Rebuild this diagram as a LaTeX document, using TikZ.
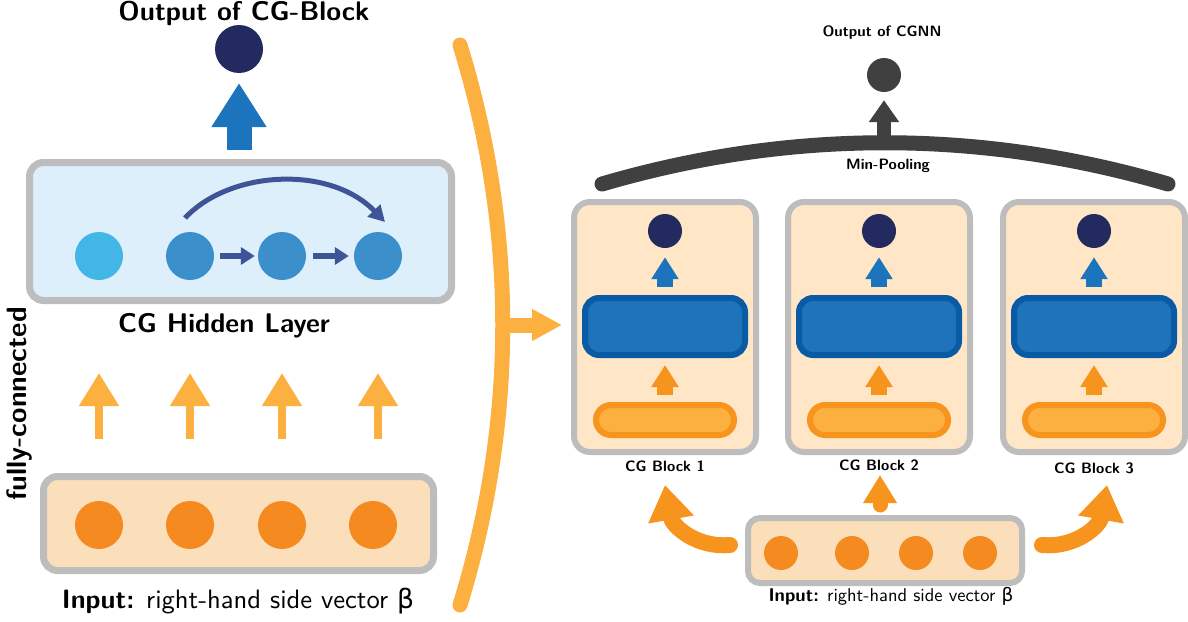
\documentclass[tikz,border=0pt]{standalone}
\usepackage{fontspec}
\setsansfont{lmsans10-regular}[Extension=.otf, BoldFont=lmsans10-bold]
\newfontfamily\grk{DejaVu Sans}
\usetikzlibrary{arrows.meta}
\definecolor{navy}{HTML}{232A5F}
\definecolor{bblue}{HTML}{1C75BC}
\definecolor{lbluefill}{HTML}{DCEFFA}
\definecolor{cgrey}{HTML}{BDBDBD}
\definecolor{lcyan}{HTML}{42B6E6}
\definecolor{mblue}{HTML}{3B8FCB}
\definecolor{slate}{HTML}{3F5496}
\definecolor{lorange}{HTML}{FBB040}
\definecolor{dorange}{HTML}{F58A20}
\definecolor{morange}{HTML}{F7941D}
\definecolor{infill}{HTML}{FBDFBB}
\definecolor{blkfill}{HTML}{FEE6C6}
\definecolor{dblue}{HTML}{0A5BA6}
\definecolor{fblue}{HTML}{1F73BA}
\definecolor{dgrey}{HTML}{404041}
\tikzset{
  greybox/.style={draw=cgrey, line width=7pt, rounded corners=14pt},
  dot/.style={circle, inner sep=0pt, minimum size=#1},
  lab/.style={font=\sffamily\bfseries, inner sep=0pt, anchor=base},
}
\begin{document}
\begin{tikzpicture}[x=1pt,y=-1pt]
\useasboundingbox (0,0) rectangle (1188,621);

% ---------- left panel ----------
\node[lab, font=\fontsize{27}{32}\selectfont\sffamily\bfseries] (t_out) at (244,20) {Output of CG-Block};
\node[dot=48pt, fill=navy] (outc) at (239,49) {};
\coordinate (ba0) at (239,150);
\coordinate (ba1) at (239,83);
\draw[bblue, line width=25pt, -{Triangle[length=44pt,width=52pt]}] (ba0) -- (ba1);

\draw[greybox, fill=lbluefill] (29.5,162.5) rectangle (451.5,300.5);
\node[dot=48pt, fill=lcyan] (h1) at (99,256) {};
\node[dot=48pt, fill=mblue] (h2) at (190,256) {};
\node[dot=48pt, fill=mblue] (h3) at (282,256) {};
\node[dot=48pt, fill=mblue] (h4) at (378,256) {};
\draw[slate, line width=6pt, -{Triangle[length=14pt,width=17pt]}] ([xshift=6pt]h2.east) -- ([xshift=-3pt]h3.west);
\draw[slate, line width=6pt, -{Triangle[length=14pt,width=17pt]}] ([xshift=7pt]h3.east) -- ([xshift=-5pt]h4.west);
\coordinate (ca0) at (185,218);
\coordinate (ca1) at (385,222);
\draw[slate, line width=5pt, -{Triangle[length=16pt,width=17pt]}] (ca0) .. controls (230,170) and (330,165) .. (ca1);

\node[lab, font=\fontsize{27}{32}\selectfont\sffamily\bfseries] (t_hid) at (224,332) {CG Hidden Layer};
\node[lab, font=\fontsize{28}{33}\selectfont\sffamily\bfseries, rotate=90, anchor=base] (t_fc) at (27,404) {fully-connected};

\foreach \x/\n in {99/1,190/2,282/3,378/4}{
  \coordinate (oa\n) at (\x,439);
  \coordinate (ob\n) at (\x,373);
  \draw[lorange, line width=8pt, -{Triangle[length=33pt,width=38pt]}] (oa\n) -- (ob\n);
}

\draw[greybox, fill=infill] (43.5,476.5) rectangle (433.5,570.5);
\foreach \x/\n in {99/1,190/2,282/3,373/4}{
  \node[dot=48pt, fill=dorange] (i\n) at (\x,525) {};
}
\node[lab, font=\fontsize{26.6}{31}\selectfont\sffamily] (t_in) at (238,608) {\textbf{Input:} right-hand side vector {\grk β}};

% ---------- bracket ----------
\coordinate (br0) at (460,45);
\coordinate (br1) at (460,605);
\draw[lorange, line width=15pt, line cap=round] (br0) .. controls (517,230) and (517,420) .. (br1);
\coordinate (bra0) at (500,325);
\coordinate (bra1) at (562,325);
\draw[lorange, line width=15pt, -{Triangle[length=30pt,width=30pt]}] (bra0) -- (bra1);

% ---------- right panel ----------
\node[lab, font=\fontsize{15}{18}\selectfont\sffamily\bfseries, anchor=center] (t_cgnn) at (882,33) {Output of CGNN};
\node[dot=34pt, fill=dgrey] (cgnn) at (884,75) {};
\coordinate (mp0) at (602,184);
\coordinate (mp1) at (1168,184);
\draw[dgrey, line width=15pt, line cap=round] (mp0) .. controls (790,129) and (980,129) .. (mp1);
\coordinate (ga0) at (884,140);
\draw[dgrey, line width=14pt, -{Triangle[length=22pt,width=29pt]}] (ga0) -- ([yshift=-8pt]cgnn.south);
\node[lab, font=\fontsize{15}{18}\selectfont\sffamily\bfseries, anchor=center] (t_mp) at (888,166) {Min-Pooling};

\foreach \cx/\n/\ly in {665/1/466,879/2/465,1094/3/468}{
  \draw[greybox, line width=6pt, rounded corners=16pt, fill=blkfill] (\cx-91,202) rectangle (\cx+91,452);
  \node[dot=34pt, fill=navy] (bo\n) at (\cx,231) {};
  \coordinate (bb\n) at (\cx,287);
  \draw[bblue, line width=16pt, -{Triangle[length=22pt,width=26pt]}] (bb\n) -- ([yshift=-9pt]bo\n.south);
  \draw[draw=dblue, line width=6pt, rounded corners=14pt, fill=fblue] (\cx-80,298) rectangle (\cx+80,355);
  \coordinate (bc\n) at (\cx,395);
  \coordinate (bd\n) at (\cx,365);
  \draw[morange, line width=16pt, -{Triangle[length=22pt,width=26pt]}] (bc\n) -- (bd\n);
  \draw[draw=morange, line width=6pt, rounded corners=15pt, fill=lorange] (\cx-69,405) rectangle (\cx+69,435);
  \node[lab, font=\fontsize{15}{18}\selectfont\sffamily\bfseries, anchor=center] (t_b\n) at (\cx,\ly) {CG Block \n};
}

\draw[greybox, line width=6pt, rounded corners=12pt, fill=infill] (748,518) rectangle (1022,583);
\foreach \x/\n in {781/1,852/2,916/3,980/4}{
  \node[dot=34pt, fill=dorange] (r\n) at (\x,553) {};
}
\node[lab, font=\fontsize{18.5}{22}\selectfont\sffamily] (t_rin) at (891,601) {\textbf{Input:} right-hand side vector {\grk β}};

\coordinate (la0) at (730,545);
\coordinate (la1) at (665,485);
\draw[morange, line width=16pt, line cap=round, -{Triangle[length=35pt,width=44pt]}] (la0) .. controls (695,548) and (672,525) .. (la1);
\coordinate (ra0) at (1042,545);
\coordinate (ra1) at (1107,485);
\draw[morange, line width=16pt, line cap=round, -{Triangle[length=35pt,width=44pt]}] (ra0) .. controls (1077,548) and (1100,525) .. (ra1);
\coordinate (ma0) at (880,505);
\coordinate (ma1) at (880,475);
\draw[morange, line width=15pt, line cap=round, -{Triangle[length=28pt,width=32pt]}] (ma0) -- (ma1);
\end{tikzpicture}
\end{document}
